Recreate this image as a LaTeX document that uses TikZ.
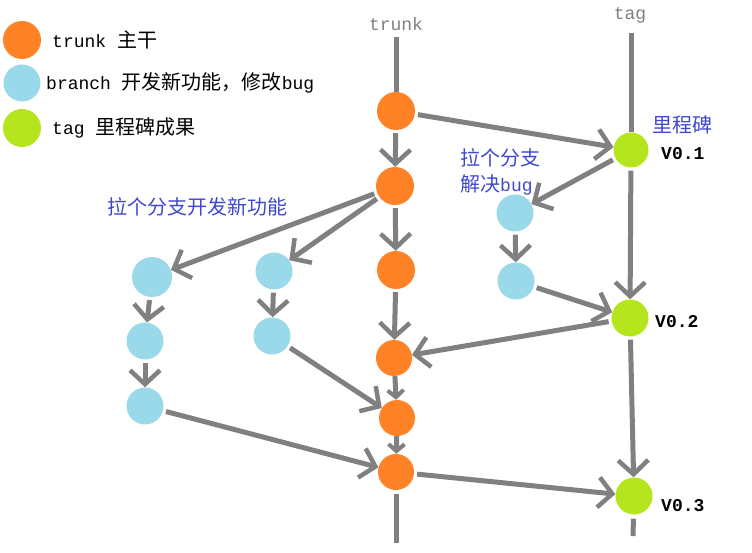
\documentclass[tikz,border=0pt]{standalone}
\usepackage{fontspec}
\usepackage{tikz}
\usetikzlibrary{arrows.meta}
\newfontfamily\cjkfont{Noto Sans CJK SC}
\newfontfamily\monofont{Liberation Mono}
\newcommand{\zh}[1]{{\cjkfont\fontsize{20}{24}\selectfont #1}}
\newcommand{\en}[1]{{\monofont\fontsize{18}{22}\selectfont #1}}
\definecolor{trunkorange}{RGB}{255,130,39}
\definecolor{branchblue}{RGB}{153,217,234}
\definecolor{taggreen}{RGB}{181,230,29}
\definecolor{linegray}{RGB}{128,128,128}
\definecolor{notblue}{RGB}{63,72,204}
\tikzset{
  trunknode/.style={circle,fill=trunkorange,minimum size=38pt,inner sep=0pt},
  branchnode/.style={circle,fill=branchblue,minimum size=37pt,inner sep=0pt},
  tagnode/.style={circle,fill=taggreen,minimum size=35pt,inner sep=0pt},
  rail/.style={draw=linegray,line width=5pt},
  flow/.style={rail,shorten <=3pt,-{Straight Barb[length=14pt,width=30pt,line width=4.5pt]}},
  shortflow/.style={rail,-{Straight Barb[length=7pt,width=16pt,line width=4pt]}},
  note/.style={text=notblue,inner sep=0pt},
  version/.style={inner sep=0pt,anchor=west,font=\bfseries}
}
\begin{document}
\begin{tikzpicture}[x=1pt,y=-1pt]
\useasboundingbox (0,0) rectangle (752,553);
% legend
\node[trunknode] (legtrunk) at (22,40) {};
\node[branchnode] (legbranch) at (22,83) {};
\node[tagnode,minimum size=38pt] (legtag) at (22,128) {};
\node[anchor=west,inner sep=0pt] (legtrunktext) at (52,40) {\en{trunk }\zh{主干}};
\node[anchor=west,inner sep=0pt] (legbranchtext) at (46,83) {\en{branch }\zh{开发新功能，修改}\en{bug}};
\node[anchor=west,inner sep=0pt] (legtagtext) at (52,128) {\en{tag }\zh{里程碑成果}};

% column titles
\node[text=linegray,inner sep=0pt] (trunktitle) at (396,24) {\en{trunk}};
\node[text=linegray,inner sep=0pt] (tagtitle) at (630,15) {\en{tag}};
\coordinate (trunktop) at (396,37);
\coordinate (trunkbot) at (396,543);
\coordinate (tagtop) at (631,33);
\coordinate (tagbot) at (633,536);

% trunk
\node[trunknode] (t1) at (396,111) {};
\node[trunknode] (t2) at (395,186) {};
\node[trunknode] (t3) at (396,270) {};
\node[trunknode,minimum size=36pt] (t4) at (394,358) {};
\node[trunknode,minimum size=36pt] (t5) at (397,418) {};
\node[trunknode,minimum size=36pt] (t6) at (396,472) {};

% tags
\node[tagnode] (g1) at (631,150) {};
\node[tagnode,minimum size=37pt] (g2) at (630,318) {};
\node[tagnode,minimum size=37pt] (g3) at (634,496) {};

% branches
\node[branchnode,minimum size=40pt] (b1) at (152,277) {};
\node[branchnode] (b2) at (145,341) {};
\node[branchnode] (b3) at (145,406) {};
\node[branchnode] (b4) at (274,271) {};
\node[branchnode] (b5) at (272,336) {};
\node[branchnode] (b6) at (515,213) {};
\node[branchnode] (b7) at (516,281) {};

% texts
\node[note] (newfeat) at (197,207) {\zh{拉个分支开发新功能}};
\node[note,anchor=west] (bugline1) at (460,158) {\zh{拉个分支}};
\node[note,anchor=west] (bugline2) at (460,185) {\zh{解决}\en{bug}};
\node[note,anchor=west] (milestone) at (652,125) {\zh{里程碑}};
\node[version] (v1) at (661,154) {\en{V0.1}};
\node[version] (v2) at (655,322) {\en{V0.2}};
\node[version] (v3) at (661,506) {\en{V0.3}};

% lines
\draw[rail] (trunktop) -- (t1);
\draw[flow] (t1) -- (t2);
\draw[flow] (t2) -- (t3);
\draw[flow] (t3) -- (t4);
\draw[shortflow] (t4) -- (t5);
\draw[shortflow] (t5) -- (t6);
\draw[rail,shorten <=4pt] (t6) -- (trunkbot);

\draw[rail] (tagtop) -- (g1);
\draw[flow] (g1) -- (g2);
\draw[flow] (g2) -- (g3);
\draw[rail,shorten <=4pt] (g3) -- (tagbot);

\draw[flow] (t1) -- (g1);
\draw[flow] (g1) -- (b6);
\draw[flow] (b6) -- (b7);
\draw[flow] (b7) -- (g2);
\draw[flow] (g2) -- (t4);

\draw[flow] (t2) -- (b1);
\draw[flow] (t2) -- (b4);
\draw[flow] (b1) -- (b2);
\draw[flow] (b2) -- (b3);
\draw[flow] (b4) -- (b5);
\draw[flow] (b5) -- (t5);
\draw[flow] (b3) -- (t6);
\draw[flow] (t6) -- (g3);
\end{tikzpicture}
\end{document}
